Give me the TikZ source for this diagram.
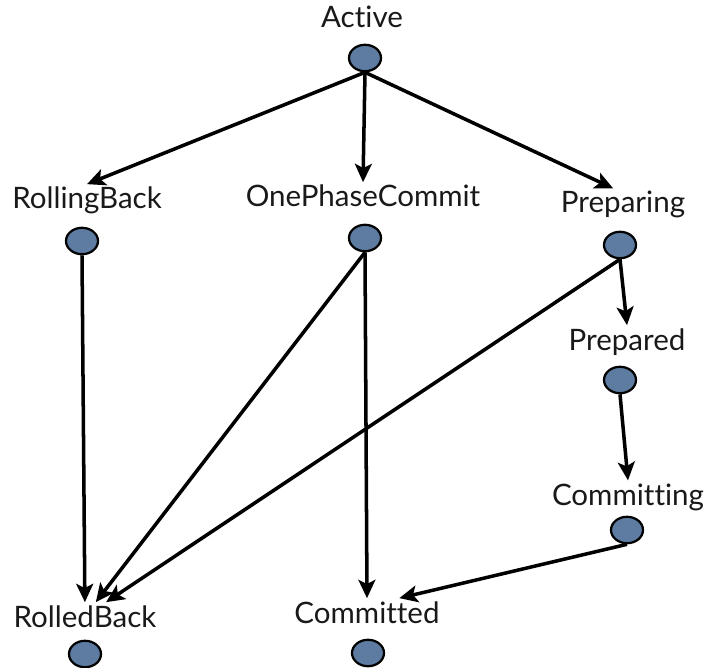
\documentclass[tikz,border=0pt]{standalone}
\usepackage{fontspec}
\setmainfont{Lato}[Ligatures=NoCommon]
\usetikzlibrary{arrows.meta,shapes.geometric}

\definecolor{dotblue}{RGB}{94,124,162}
\definecolor{textgray}{RGB}{25,25,25}

\tikzset{
  state/.style={anchor=base, inner sep=2pt, text=textgray, font=\fontsize{21}{24}\selectfont},
  dot/.style={ellipse, draw=black, line width=1.6pt, fill=dotblue,
    minimum width=0.8cm, minimum height=0.66cm, inner sep=0pt},
  edge/.style={line width=2.5pt, -{Stealth[length=13pt,width=12pt,inset=3pt]}}
}

\begin{document}
\begin{tikzpicture}[x=0.025cm, y=-0.025cm]
    \useasboundingbox (0,0) rectangle (709,668);

    \node[state] (active) at (362,28) {Active};
    \node[state] (rollingBack) at (87,209) {RollingBack};
    \node[state] (onePhase) at (363,207) {OnePhaseCommit};
    \node[state] (preparing) at (623,213) {Preparing};
    \node[state] (prepared) at (627,350) {Prepared};
    \node[state] (committing) at (628,505) {Committing};
    \node[state] (rolledBack) at (85,627) {RolledBack};
    \node[state] (committed) at (367,623) {Committed};

    \node[dot] (activeDot) at (365,58) {};
    \node[dot] (rollingBackDot) at (82,241) {};
    \node[dot] (onePhaseDot) at (365,238) {};
    \node[dot] (preparingDot) at (620,245) {};
    \node[dot] (preparedDot) at (620,380) {};
    \node[dot] (committingDot) at (627,530) {};
    \node[dot] (rolledBackDot) at (85,654) {};
    \node[dot] (committedDot) at (368,653) {};

    \draw[edge] (activeDot.south) -- (rollingBack.north);
    \draw[edge] (activeDot.south) -- (onePhase.north);
    \draw[edge] (activeDot.south) -- ([xshift=-7pt]preparing.north);
    \draw[edge] (rollingBackDot.south) -- (rolledBack);
    \draw[edge] (onePhaseDot.south) -- (rolledBack);
    \draw[edge] (onePhaseDot.south) -- (committed.north);
    \draw[edge] (preparingDot.south) -- (rolledBack);
    \draw[edge] (preparingDot.south) -- (prepared.north);
    \draw[edge] (preparedDot.south) -- (committing.north);
    \draw[edge] (committingDot.south) -- ([xshift=23pt]committed.north);

  \end{tikzpicture}
\end{document}
